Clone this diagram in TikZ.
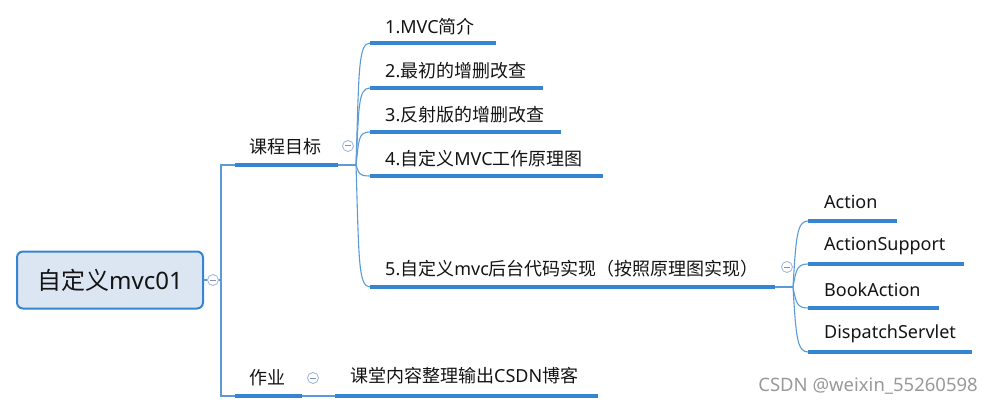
\documentclass[tikz,border=0pt]{standalone}
\usepackage{fontspec}
\setmainfont{Noto Sans}
\newfontfamily\cjk{Noto Sans CJK SC}
\definecolor{ul}{HTML}{3585D0}
\definecolor{cn}{HTML}{5B9BD5}
\definecolor{rootfill}{HTML}{DCE6F2}
\definecolor{circ}{HTML}{A8B8DC}
\definecolor{txt}{HTML}{141414}
\begin{document}
\begin{tikzpicture}[x=1pt,y=-1pt,
  topic/.style={anchor=west,inner sep=0pt,text=txt,font=\fontsize{18}{21}\selectfont},
  uline/.style={draw=ul,line width=3.2pt},
  conn/.style={draw=cn,line width=1.1pt},
  fold/.style={circle,draw=circ,fill=white,minimum size=11pt,inner sep=0pt,line width=0.9pt,
    path picture={\draw[draw=circ!80!black,line width=1pt]
      ([xshift=-3pt]path picture bounding box.center) -- ([xshift=3pt]path picture bounding box.center);}}
]
\useasboundingbox (0,0) rectangle (993,406);

% root
\node[draw=ul,fill=rootfill,rounded corners=6pt,line width=2pt,minimum width=186pt,minimum height=57pt,
  inner sep=0pt,text=txt,font=\fontsize{24}{28}\selectfont] (root) at (110,280) {{\cjk 自定义}mvc01};
\coordinate (j0) at (221,280);
\draw[conn] (root.east) -- (j0);

% level 1: 课程目标
\coordinate (k1s) at (235,165);
\coordinate (k1e) at (338,165);
\node[topic] (k1) at (249,147) {\cjk 课程目标};
\draw[uline] (k1s) -- (k1e);
\draw[conn] (j0) |- (k1s);
\coordinate (bp1) at (356,165);
\draw[conn] (k1e) -- (bp1);

% level 1: 作业
\coordinate (k2s) at (235,396);
\coordinate (k2e) at (302,396);
\node[topic] (k2) at (249,378) {\cjk 作业};
\draw[uline] (k2s) -- (k2e);
\draw[conn] (j0) |- (k2s);

% 作业 child
\coordinate (h1s) at (335,396);
\coordinate (h1e) at (598,396);
\node[topic] (h1) at (350,376) {{\cjk 课堂内容整理输出}CSDN{\cjk 博客}};
\draw[conn] (k2e) -- (h1s);
\draw[uline] (h1s) -- (h1e);

% children of 课程目标
\coordinate (c1s) at (370,43);  \coordinate (c1e) at (496,43);
\coordinate (c2s) at (370,88);  \coordinate (c2e) at (543,88);
\coordinate (c3s) at (370,132); \coordinate (c3e) at (561,132);
\coordinate (c4s) at (370,176); \coordinate (c4e) at (603,176);
\coordinate (c5s) at (370,287); \coordinate (c5e) at (775,287);
\node[topic] (c1) at (385,27)  {1.MVC{\cjk 简介}};
\node[topic] (c2) at (385,71)  {2.{\cjk 最初的增删改查}};
\node[topic] (c3) at (385,115) {3.{\cjk 反射版的增删改查}};
\node[topic] (c4) at (385,159) {4.{\cjk 自定义}MVC{\cjk 工作原理图}};
\node[topic] (c5) at (385,269) {5.{\cjk 自定义}mvc{\cjk 后台代码实现（按照原理图实现）}};
\draw[conn] (bp1) .. controls +(3,-92) and +(-12,0) .. (c1s);
\draw[conn] (bp1) .. controls +(3,-58) and +(-12,0) .. (c2s);
\draw[conn] (bp1) .. controls +(3,-25) and +(-12,0) .. (c3s);
\draw[conn] (bp1) .. controls +(3,8) and +(-12,0) .. (c4s);
\draw[conn] (bp1) .. controls +(3,92) and +(-12,0) .. (c5s);
\foreach \i in {1,...,5} {\draw[uline] (c\i s) -- (c\i e);}
\coordinate (bp2) at (793,287);
\draw[conn] (c5e) -- (bp2);

% children of 5
\coordinate (g1s) at (808,221); \coordinate (g1e) at (897,221);
\coordinate (g2s) at (808,264); \coordinate (g2e) at (964,264);
\coordinate (g3s) at (808,308); \coordinate (g3e) at (939,308);
\coordinate (g4s) at (808,352); \coordinate (g4e) at (972,352);
\node[topic] (g1) at (824,202) {Action};
\node[topic] (g2) at (824,246) {ActionSupport};
\node[topic] (g3) at (824,290) {BookAction};
\node[topic] (g4) at (824,334) {DispatchServlet};
\draw[conn] (bp2) .. controls +(3,-50) and +(-11,0) .. (g1s);
\draw[conn] (bp2) .. controls +(3,-17) and +(-11,0) .. (g2s);
\draw[conn] (bp2) .. controls +(3,16) and +(-11,0) .. (g3s);
\draw[conn] (bp2) .. controls +(3,49) and +(-11,0) .. (g4s);
\foreach \i in {1,...,4} {\draw[uline] (g\i s) -- (g\i e);}

% fold markers
\node[fold] (f0) at (213,280) {};
\node[fold] (f1) at (348,146) {};
\node[fold] (f2) at (313,378) {};
\node[fold] (f3) at (787,267) {};

% watermark
\node[anchor=east,inner sep=0pt,text=black!40,font=\fontsize{18.5}{22}\selectfont] (wm) at (978,386) {CSDN @weixin\_55260598};
\end{tikzpicture}
\end{document}
